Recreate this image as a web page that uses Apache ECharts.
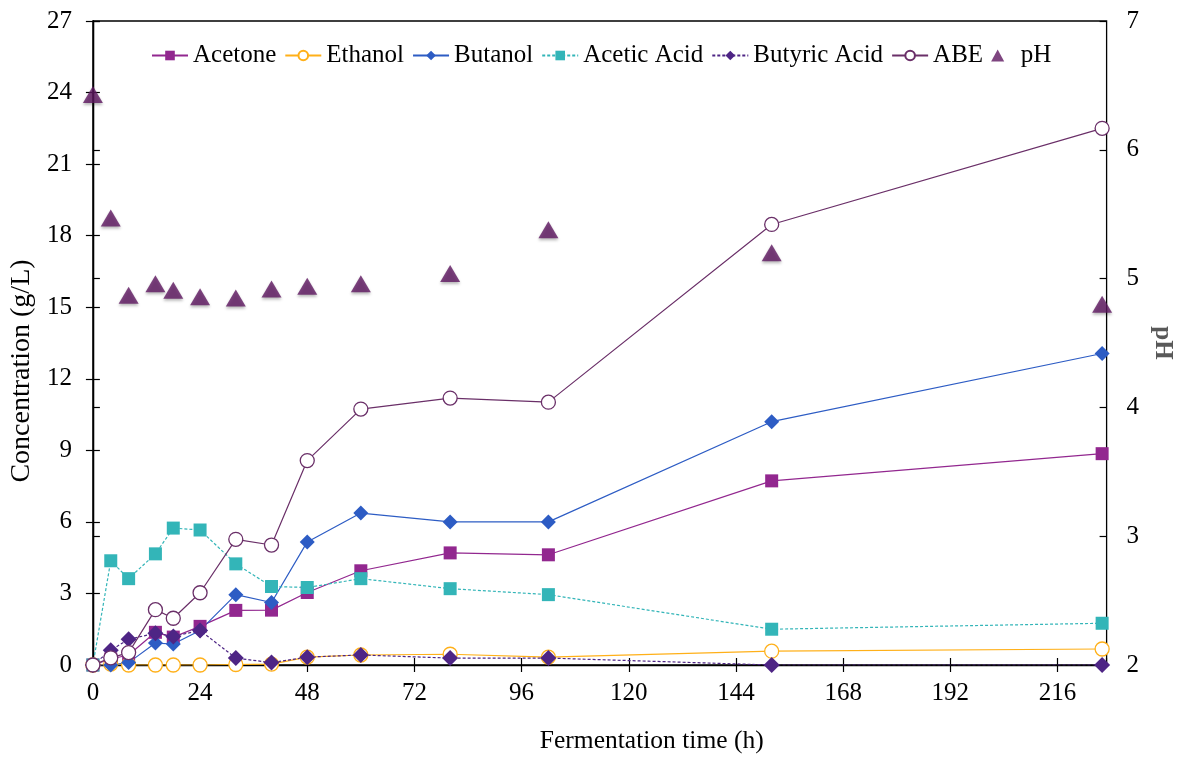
<!DOCTYPE html>
<html>
<head>
<meta charset="utf-8">
<script src="https://cdn.jsdelivr.net/npm/echarts@6/dist/echarts.min.js"></script>
<style>html,body{margin:0;padding:0;background:#fff;overflow:hidden}#c{width:100vw;height:100vh}</style>
</head>
<body>
<div id="c"></div>
<script>
const time = [0, 4, 8, 14, 18, 24, 32, 40, 48, 60, 80, 102, 152, 226];
const acetone = [0, 0.25, 0.42, 1.37, 1.17, 1.62, 2.29, 2.3, 3.04, 3.95, 4.7, 4.62, 7.72, 8.86];
const ethanol = [0, 0.04, 0, 0, 0, 0, 0.02, 0.04, 0.33, 0.42, 0.45, 0.33, 0.58, 0.67];
const butanol = [0, 0, 0.1, 0.92, 0.88, 1.45, 2.95, 2.62, 5.16, 6.37, 6.0, 6.0, 10.2, 13.06];
const aceticAcid = [0, 4.37, 3.62, 4.66, 5.74, 5.66, 4.24, 3.29, 3.25, 3.62, 3.2, 2.95, 1.5, 1.75];
const butyricAcid = [0, 0.62, 1.08, 1.33, 1.2, 1.45, 0.29, 0.1, 0.33, 0.42, 0.29, 0.29, 0, 0];
const abe = [0, 0.3, 0.52, 2.32, 1.96, 3.03, 5.27, 5.03, 8.57, 10.73, 11.19, 11.02, 18.47, 22.5];
const pH = [6.43, 5.47, 4.87, 4.96, 4.91, 4.86, 4.85, 4.92, 4.94, 4.96, 5.04, 5.38, 5.2, 4.8];
const xTicks = {min: 0, max: 227, interval: 24};
const yLeft = {min: 0, max: 27, interval: 3};
const yRight = {min: 2, max: 7, interval: 1};

const pair = arr => time.map((t, i) => [t, arr[i]]);
const FONT = 'Liberation Serif';
const el = document.getElementById('c');
const chart = echarts.init(el, null, {renderer: 'canvas'});

function lineSeries(name, data, color, symbol, size, dashed, fill) {
  return {
    name, type: 'line', data: pair(data), xAxisIndex: 0, yAxisIndex: 0,
    symbol, symbolSize: size, showSymbol: true,
    lineStyle: {color, width: 1.2, type: dashed ? [3, 2] : 'solid'},
    itemStyle: {color: fill || color, borderColor: color, borderWidth: fill ? 1.3 : 0},
    emphasis: {disabled: true}, animation: false, z: 3
  };
}

const axisLine = {show: true, lineStyle: {color: '#000', width: 1.3}};
const tickOut = {show: true, inside: false, length: 7, lineStyle: {color: '#000', width: 1.2}};
const tickIn = {show: true, inside: true, length: 7, lineStyle: {color: '#000', width: 1.2}};
const lbl = {fontFamily: FONT, fontSize: 25, color: '#000'};

chart.setOption({
  animation: false,
  backgroundColor: '#fff',
  grid: {left: 92.5, right: 71, top: 21, bottom: 89, show: true, borderColor: '#000', borderWidth: 1.3, containLabel: false},
  legend: {
    top: 38, left: 146, itemWidth: 36, itemHeight: 12, itemGap: 8,
    textStyle: {fontFamily: FONT, fontSize: 25, color: '#000'},
    data: ['Acetone', 'Ethanol', 'Butanol', 'Acetic Acid', 'Butyric Acid', 'ABE',
           {name: 'pH', icon: 'path://M0,11L6,0L12,11Z'}]
  },
  xAxis: [
    {type: 'value', ...xTicks, position: 'bottom', axisLine, axisTick: tickOut,
     axisLabel: {...lbl, margin: 16, showMaxLabel: false}, splitLine: {show: false},
     name: 'Fermentation time (h)', nameLocation: 'middle', nameGap: 63,
     nameTextStyle: {fontFamily: FONT, fontSize: 25.5, color: '#000', padding: [0, 0, 0, 104]}},
    {type: 'value', ...xTicks, position: 'bottom', axisLine: {show: false}, axisTick: tickIn,
     axisLabel: {show: false}, splitLine: {show: false}}
  ],
  yAxis: [
    {type: 'value', ...yLeft, position: 'left', axisLine, axisTick: tickOut,
     axisLabel: {...lbl, margin: 21}, splitLine: {show: false},
     name: 'Concentration (g/L)', nameLocation: 'middle', nameGap: 56,
     nameTextStyle: {fontFamily: FONT, fontSize: 28, color: '#000', padding: [0, 56, 0, 0]}},
    {type: 'value', ...yRight, position: 'right', axisLine, axisTick: tickOut,
     axisLabel: {...lbl, margin: 20}, splitLine: {show: false},
     name: 'pH', nameLocation: 'middle', nameGap: 42, nameRotate: -90,
     nameTextStyle: {fontFamily: FONT, fontSize: 25, fontWeight: 'bold', color: '#595959'}},
    {type: 'value', ...yLeft, position: 'left', axisLine: {show: false}, axisTick: tickIn,
     axisLabel: {show: false}, splitLine: {show: false}},
    {type: 'value', ...yRight, position: 'right', axisLine: {show: false}, axisTick: tickIn,
     axisLabel: {show: false}, splitLine: {show: false}}
  ],
  series: [
    lineSeries('Acetone', acetone, '#92278F', 'rect', 13, false),
    lineSeries('Ethanol', ethanol, '#FFB019', 'circle', 14, false, '#fff'),
    lineSeries('Butanol', butanol, '#2D5CC4', 'diamond', 15, false),
    lineSeries('Acetic Acid', aceticAcid, '#33B5B8', 'rect', 13, true),
    lineSeries('Butyric Acid', butyricAcid, '#4E2585', 'diamond', 16, true),
    lineSeries('ABE', abe, '#6A2F68', 'circle', 14, false, '#fff'),
    {name: 'pH', type: 'scatter', data: pair(pH), xAxisIndex: 0, yAxisIndex: 1,
     symbol: 'triangle', symbolSize: [20, 17],
     itemStyle: {color: '#5E1760', shadowColor: 'rgba(0,0,0,0.35)', shadowBlur: 3, shadowOffsetY: 2},
     emphasis: {disabled: true}, z: 2}
  ]
});
window.addEventListener('resize', () => chart.resize());
</script>
</body>
</html>
